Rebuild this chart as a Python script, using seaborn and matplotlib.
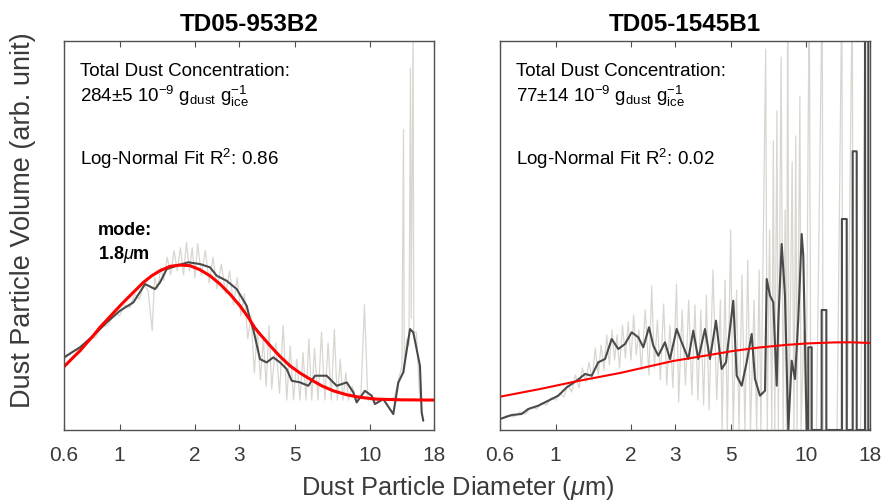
import matplotlib
matplotlib.use("Agg")
import matplotlib.pyplot as plt
import seaborn as sns
from matplotlib.ticker import NullLocator, FixedLocator, FixedFormatter

# ---------------- data ----------------
xticks = [0.6, 1, 2, 3, 5, 10, 18]
xtick_labels = ["0.6", "1", "2", "3", "5", "10", "18"]
titles = ["TD05-953B2", "TD05-1545B1"]
conc_text = ["284±5", "77±14"]
r2_text = ["0.86", "0.02"]
mode_text = "1.8"

# Left panel (TD05-953B2)
left_raw_x = [0.60, 0.65, 0.70, 0.75, 0.80, 0.85, 0.90, 0.95, 1.00, 1.05, 1.10, 1.15, 1.20, 1.25,
              1.30, 1.35, 1.38, 1.42, 1.46, 1.50, 1.55, 1.60, 1.65, 1.70, 1.75, 1.80, 1.85, 1.90,
              1.95, 2.00, 2.05, 2.12, 2.20, 2.28, 2.36, 2.45, 2.55, 2.65, 2.75, 2.85, 2.95, 3.05,
              3.15, 3.25, 3.35, 3.45, 3.55, 3.65, 3.75, 3.85, 3.95, 4.05, 4.20, 4.35, 4.50, 4.65,
              4.80, 4.95, 5.10, 5.25, 5.40, 5.55, 5.70, 5.85, 6.00, 6.20, 6.40, 6.60, 6.80, 7.00,
              7.20, 7.40, 7.60, 7.80, 8.00, 8.20, 8.50, 8.80, 9.20, 9.50, 9.80, 10.5, 11.5, 12.5,
              13.0, 13.4, 13.6, 13.7, 14.0, 14.3, 14.5, 14.6, 14.85, 14.95, 15.3, 15.8, 16.5, 18.0]
left_raw_y = [0.30, 0.36, 0.37, 0.44, 0.46, 0.54, 0.55, 0.64, 0.62, 0.70, 0.68, 0.78, 0.74, 0.86,
              0.80, 0.51, 0.90, 0.82, 0.97, 0.88, 1.05, 0.92, 1.10, 0.95, 1.12, 0.92, 1.16, 0.95,
              1.12, 0.90, 1.15, 0.92, 1.10, 0.86, 1.05, 0.82, 1.00, 0.78, 0.95, 0.70, 0.90, 0.62,
              0.78, 0.45, 0.62, 0.20, 0.52, 0.15, 0.45, 0.10, 0.55, 0.08, 0.42, 0.05, 0.55, 0.00,
              0.40, 0.00, 0.30, 0.00, 0.35, 0.00, 0.45, 0.00, 0.38, 0.00, 0.50, 0.00, 0.42, 0.00,
              0.52, 0.00, 0.30, 0.00, 0.20, 0.00, 0.10, 0.00, 0.05, 0.70, 0.00, 0.00, 0.00, 0.02,
              0.15, 0.25, 1.99, 0.20, 0.45, 0.40, 2.44, 0.60, 2.70, 0.50, 0.50, 0.00, 0.00, 0.00]
left_smooth_x = [0.60, 0.695, 0.785, 0.889, 1.004, 1.135, 1.264, 1.385, 1.450, 1.542, 1.691,
                 1.881, 2.095, 2.296, 2.443, 2.677, 2.935, 3.217, 3.316, 3.418, 3.635, 3.867,
                 4.108, 4.370, 4.647, 4.866, 5.251, 5.668, 6.03, 6.71, 7.36, 8.07, 8.57, 8.84,
                 9.54, 10.15, 10.46, 11.29, 12.38, 12.97, 13.57, 14.44, 14.88, 15.82, 16.07, 16.31]
left_smooth_y = [0.314, 0.388, 0.473, 0.571, 0.657, 0.718, 0.853, 0.816, 0.865, 0.963, 0.988,
                 1.013, 1.000, 0.976, 0.914, 0.877, 0.816, 0.693, 0.596, 0.520, 0.301, 0.277,
                 0.314, 0.277, 0.228, 0.142, 0.130, 0.105, 0.179, 0.179, 0.105, 0.130, 0.057, -0.017,
                 0.068, 0.032, -0.029, 0.007, -0.103, 0.130, 0.204, 0.522, 0.498, 0.252, -0.090, -0.152]
left_fit_x = [0.60, 0.653, 0.695, 0.739, 0.785, 0.835, 0.889, 0.944, 1.004, 1.067, 1.135,
              1.244, 1.344, 1.45, 1.59, 1.743, 1.911, 2.095, 2.296, 2.517, 2.759, 3.025,
              3.265, 3.47, 3.635, 3.99, 4.37, 4.79, 5.251, 5.76, 6.41, 7.13, 8.07, 9.12,
              10.63, 13.17, 18.0]
left_fit_y = [0.245, 0.314, 0.362, 0.419, 0.473, 0.535, 0.588, 0.640, 0.693, 0.743, 0.792,
              0.865, 0.914, 0.951, 0.983, 0.993, 0.988, 0.958, 0.914, 0.853, 0.779, 0.693,
              0.608, 0.530, 0.485, 0.400, 0.321, 0.252, 0.199, 0.154, 0.105, 0.068, 0.039, 0.020,
              0.007, 0.002, 0.0]

# Right panel (TD05-1545B1)
right_raw_x = [0.60, 0.64, 0.68, 0.72, 0.76, 0.80, 0.84, 0.88, 0.92, 0.96, 1.00, 1.04, 1.08, 1.12,
               1.16, 1.20, 1.24, 1.28, 1.32, 1.36, 1.40, 1.44, 1.48, 1.52, 1.56, 1.60, 1.64, 1.68,
               1.72, 1.76, 1.80, 1.85, 1.90, 1.95, 2.00, 2.05, 2.10, 2.15, 2.20, 2.28, 2.36, 2.42,
               2.48, 2.55, 2.62, 2.70, 2.78, 2.86, 2.94, 3.04, 3.10, 3.20, 3.30, 3.40, 3.50, 3.60,
               3.70, 3.80, 3.90, 4.00, 4.10, 4.25, 4.40, 4.55, 4.62, 4.75, 4.85, 5.00, 5.12, 5.28,
               5.40, 5.55, 5.70, 5.85, 6.00, 6.20, 6.35, 6.50, 6.60, 6.90, 7.00, 7.15, 7.30, 7.40,
               7.50, 7.65, 7.75, 7.95, 8.10, 8.25, 8.35, 8.45, 8.55, 8.80, 8.95, 9.10, 9.20, 9.45,
               9.55, 9.80, 10.0, 10.3, 10.45, 11.0, 11.6, 11.7, 12.5, 13.3, 13.9, 14.0, 14.6, 15.3,
               15.4, 16.5, 17.3, 17.4, 18.0]
right_raw_y = [0.10, 0.15, 0.13, 0.18, 0.16, 0.23, 0.21, 0.27, 0.25, 0.32, 0.30, 0.37, 0.33, 0.45,
               0.38, 0.55, 0.42, 0.62, 0.48, 0.68, 0.50, 0.82, 0.55, 0.85, 0.60, 0.95, 0.65, 1.00,
               0.70, 0.95, 0.62, 1.05, 0.72, 1.08, 0.70, 1.15, 0.75, 1.00, 0.60, 1.20, 0.55, 1.44,
               0.62, 1.10, 0.50, 1.26, 0.45, 1.05, 0.42, 1.46, 0.28, 1.20, 0.45, 1.30, 0.35, 1.25,
               0.30, 1.20, 0.25, 1.35, 0.20, 1.60, 0.30, 1.30, 0.00, 1.50, 0.00, 2.00, 0.00, 1.40,
               0.00, 1.55, 0.00, 1.70, 0.00, 1.30, 0.00, 1.60, 0.00, 3.81, 0.00, 2.00, 0.00, 2.89,
               0.00, 3.19, 0.00, 3.73, 0.00, 2.20, 0.00, 4.50, 0.00, 2.68, 0.00, 2.94, 0.00, 3.34,
               0.00, 1.00, 0.00, 4.50, 0.00, 0.00, 4.50, 0.00, 0.00, 0.00, 4.50, 0.00, 0.00, 4.50,
               0.00, 0.00, 4.50, 0.00, 0.00]
right_smooth_x = [0.60, 0.668, 0.732, 0.778, 0.853, 0.935, 1.025, 1.108, 1.214, 1.311, 1.394,
                  1.481, 1.576, 1.675, 1.780, 1.893, 2.013, 2.139, 2.240, 2.360, 2.456, 2.571,
                  2.734, 2.862, 3.044, 3.187, 3.387, 3.546, 3.713, 3.949, 4.134, 4.369, 4.604,
                  4.790, 5.122, 5.286, 5.534, 5.794, 6.067, 6.254, 6.547, 6.856, 6.964, 7.178,
                  7.399, 7.634, 7.747, 7.992, 8.239, 8.493, 8.763, 9.032, 9.311, 9.607, 9.749,
                  10.058, 10.207, 10.207, 10.532, 10.532, 11.54, 11.54, 12.05, 12.05, 13.90,
                  13.90, 14.53, 14.53, 15.35, 15.35, 15.93, 15.93, 17.19, 17.19, 17.72, 17.72, 18.0]
right_smooth_y = [0.11, 0.15, 0.16, 0.21, 0.243, 0.293, 0.343, 0.427, 0.493, 0.56, 0.543,
                  0.677, 0.71, 0.91, 0.81, 0.86, 0.977, 0.927, 0.827, 1.027, 0.843, 0.743,
                  0.877, 0.71, 1.01, 0.877, 0.71, 0.993, 0.71, 1.01, 0.71, 1.093, 0.61,
                  0.677, 1.293, 0.543, 0.443, 0.677, 0.96, 0.51, 0.343, 0.393, 1.51, 1.343,
                  1.277, 0.443, 1.077, 1.86, 1.343, 0.0, 0.693, 0.51, 1.11, 1.96, 1.743,
                  0.0, 0.0, 0.827, 0.827, 0.0, 0.0, 1.2, 1.2, 0.0, 0.0,
                  2.11, 2.11, 0.0, 0.0, 2.787, 2.787, 0.0, 0.0, 4.5, 4.5, 0.0, 0.0]
right_fit_x = [0.60, 0.867, 1.229, 1.808, 2.943, 4.0, 5.108, 6.5, 8.24, 10.0, 11.16, 13.0, 15.25, 18.0]
right_fit_y = [0.333, 0.41, 0.49, 0.57, 0.69, 0.745, 0.79, 0.825, 0.85, 0.865, 0.87, 0.876, 0.877, 0.87]

# ---------------- style ----------------
sns.set_theme(style="white")
plt.rcParams["font.family"] = ["Liberation Sans", "DejaVu Sans"]
plt.rcParams["mathtext.fontset"] = "custom"
plt.rcParams["mathtext.rm"] = "Liberation Sans"
plt.rcParams["mathtext.it"] = "Liberation Sans:italic"
plt.rcParams["mathtext.bf"] = "Liberation Sans:bold"
plt.rcParams["mathtext.default"] = "regular"

RAW = "#d9d6cf"
DARK = "#4a4a4a"
RED = "#ff0000"
TXT = "#3a3a3a"
SPINE = "#505050"

W, H = 885, 502
fig = plt.figure(figsize=(W / 100, H / 100), dpi=100)
ax_l = fig.add_axes([64 / W, (H - 431) / H, 370 / W, 389 / H])
ax_r = fig.add_axes([500 / W, (H - 431) / H, 370 / W, 389 / H])

panels = [
    (ax_l, left_raw_x, left_raw_y, left_smooth_x, left_smooth_y, left_fit_x, left_fit_y, (-0.22, 2.64), 2.2),
    (ax_r, right_raw_x, right_raw_y, right_smooth_x, right_smooth_y, right_fit_x, right_fit_y, (0.0, 3.89), 1.5),
]

for i, (ax, rx, ry, sx, sy, fx, fy, ylim, fit_lw) in enumerate(panels):
    sns.lineplot(x=rx, y=ry, ax=ax, color=RAW, lw=0.9, estimator=None, sort=False)
    sns.lineplot(x=sx, y=sy, ax=ax, color=DARK, lw=1.5, estimator=None, sort=False)
    sns.lineplot(x=fx, y=fy, ax=ax, color=RED, lw=fit_lw, estimator=None, sort=False)
    ax.set_xscale("log")
    ax.set_xlim(0.6, 18)
    ax.set_ylim(*ylim)
    ax.xaxis.set_major_locator(FixedLocator(xticks))
    ax.xaxis.set_major_formatter(FixedFormatter(xtick_labels))
    ax.xaxis.set_minor_locator(NullLocator())
    ax.set_yticks([])
    ax.set_xlabel("")
    ax.set_ylabel("")
    ax.tick_params(axis="x", which="major", direction="in", top=True, bottom=True,
                   length=4, width=0.8, color=SPINE, labelsize=15, labelcolor=TXT, pad=11)
    for s in ax.spines.values():
        s.set_visible(True)
        s.set_color(SPINE)
        s.set_linewidth(1.0)
    ax.set_title(titles[i], fontsize=17.5, fontweight="bold", color="black", pad=8)
    tx = 0.043
    ax.text(tx, 0.9126, "Total Dust Concentration:", transform=ax.transAxes,
            fontsize=13.5, color="black", va="baseline", ha="left")
    ax.text(tx, 0.8465,
            conc_text[i] + r" 10$^{-9}$ g$_{dust}$ g$_{ice}^{-1}$",
            transform=ax.transAxes, fontsize=13.5, color="black", va="baseline", ha="left")
    ax.text(tx, 0.6838, "Log-Normal Fit R$^{2}$: " + r2_text[i], transform=ax.transAxes,
            fontsize=13.5, color="black", va="baseline", ha="left")

ax_l.text(0.092, 0.5039, "mode:", transform=ax_l.transAxes, fontsize=13,
          fontweight="bold", color="black", va="baseline", ha="left")
ax_l.text(0.092, 0.442, mode_text + r"$\mathit{\mu}$m", transform=ax_l.transAxes, fontsize=13,
          fontweight="bold", color="black", va="baseline", ha="left")

fig.text(23 / W, (H - 220) / H, "Dust Particle Volume (arb. unit)", rotation=90,
         fontsize=19.5, color=TXT, ha="center", va="center")
fig.text(458 / W, (H - 488) / H, r"Dust Particle Diameter ($\mathit{\mu}$m)",
         fontsize=18.3, color=TXT, ha="center", va="center")

fig.savefig("out.png", dpi=100, facecolor="white")
